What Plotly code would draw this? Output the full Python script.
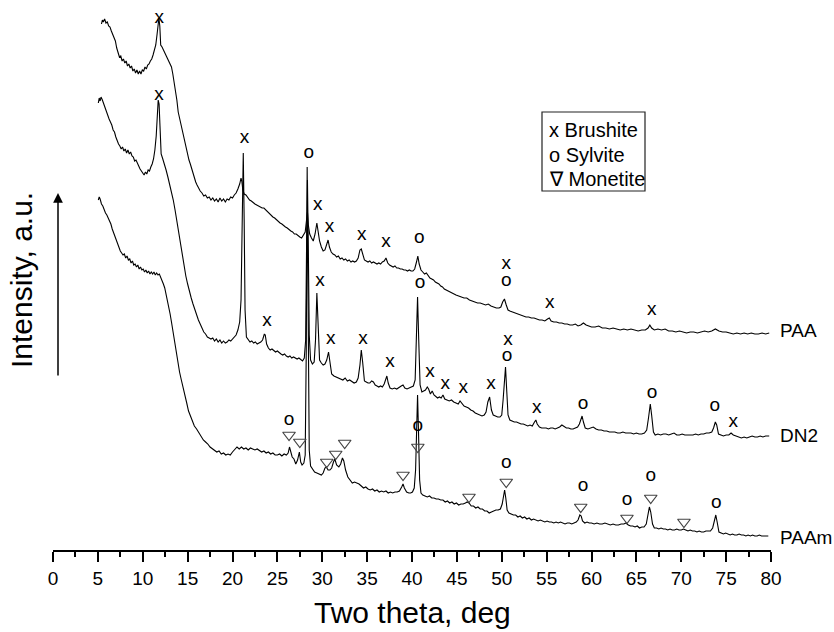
import plotly.graph_objects as go

# ---------------- data (two theta, deg ; intensity, a.u.) ----------------
paa = [
(5.40,526),(5.50,530),(5.60,528),(5.75,531),(5.90,527),(6.05,528),(6.20,524),(6.35,523),(6.50,519),(6.65,516),
(6.80,513),(6.95,509),(7.10,502),(7.25,497),(7.40,493),(7.55,494),(7.70,489),(7.85,491),(8.00,487),(8.15,489),
(8.30,484),(8.45,486),(8.60,482),(8.75,484),(8.90,479),(9.05,481),(9.20,477),(9.35,480),(9.50,476),(9.65,479),
(9.80,476),(9.95,480),(10.10,479),(10.25,483),(10.40,481),(10.55,485),(10.70,486),(10.85,489),(11.00,491),(11.15,495),
(11.30,499),(11.45,505),(11.60,516),(11.70,528),(11.80,532),(11.90,524),(12.00,505),(12.15,503),(12.30,500),(12.45,497),
(12.60,494),(12.75,492),(12.90,489),(13.05,486),(13.20,483),(13.35,476),(13.50,468),(13.65,460),(13.80,450),(13.95,438),
(14.10,432),(14.25,424),(14.40,419),(14.55,413),(14.70,406),(14.85,401),(15.00,397),(15.15,390),(15.30,386),(15.45,381),
(15.60,377),(15.75,372),(15.90,368),(16.05,365),(16.20,362),(16.40,359),(16.60,357),(16.80,354),(17.00,355),(17.20,352),
(17.40,353),(17.60,350),(17.80,352),(18.00,349),(18.20,351),(18.40,348),(18.60,352),(18.80,349),(19.00,351),(19.20,348),
(19.40,351),(19.60,350),(19.80,353),(20.00,352),(20.20,355),(20.40,357),(20.60,361),(20.80,366),(20.95,372),(21.05,368),
(21.15,360),(21.30,356),(21.50,355),(21.70,352),(21.90,350),(22.10,349),(22.30,347),(22.50,346),(22.70,345),(22.90,344),
(23.10,343),(23.30,342),(23.50,342),(23.70,340),(23.90,338),(24.10,336),(24.30,335),(24.50,333),(24.70,332),(24.90,330),
(25.10,329),(25.30,327),(25.50,326),(25.70,324),(25.90,323),(26.10,322),(26.30,320),(26.50,319),(26.70,318),(26.90,316),
(27.10,316),(27.30,314),(27.50,313),(27.70,312),(27.90,315),(28.10,318),(28.25,330),(28.35,338),(28.45,325),(28.60,316),
(28.80,312),(29.00,309),(29.20,316),(29.40,327),(29.55,318),(29.70,309),(29.90,303),(30.10,299),(30.30,300),(30.50,305),
(30.65,310),(30.80,303),(31.00,298),(31.20,296),(31.40,295),(31.60,293),(31.80,294),(32.00,291),(32.20,292),(32.40,290),
(32.60,291),(32.80,289),(33.00,290),(33.20,288),(33.40,289),(33.60,288),(33.80,289),(34.00,292),(34.20,300),(34.35,301),
(34.50,295),(34.70,290),(34.90,289),(35.10,288),(35.30,289),(35.50,287),(35.70,288),(35.90,287),(36.10,286),(36.30,287),
(36.50,286),(36.70,288),(36.90,289),(37.10,292),(37.30,287),(37.50,285),(37.70,284),(37.90,283),(38.10,284),(38.30,282),
(38.50,282),(38.70,281),(38.90,281),(39.10,280),(39.30,280),(39.50,279),(39.70,280),(39.90,279),(40.10,279),(40.30,281),
(40.50,288),(40.65,294),(40.80,286),(41.00,280),(41.20,278),(41.40,276),(41.60,277),(41.80,274),(42.00,272),(42.20,271),
(42.40,270),(42.60,268),(42.80,267),(43.00,266),(43.20,264),(43.40,263),(43.60,261),(43.80,260),(44.00,259),(44.30,258),
(44.60,256),(44.90,255),(45.20,254),(45.50,253),(45.80,252),(46.10,252),(46.40,250),(46.70,249),(47.00,248),(47.30,247),
(47.60,247),(47.90,246),(48.20,245),(48.50,246),(48.80,244),(49.10,243),(49.40,242),(49.70,242),(49.90,243),(50.10,248),
(50.30,251),(50.50,245),(50.70,240),(50.90,239),(51.20,238),(51.50,237),(51.80,236),(52.10,235),(52.40,234),(52.70,233),
(53.00,233),(53.30,232),(53.60,232),(53.90,231),(54.20,230),(54.50,230),(54.80,229),(55.10,231),(55.30,232),(55.50,229),
(55.80,228),(56.10,228),(56.40,227),(56.70,227),(57.00,226),(57.30,226),(57.60,225),(57.90,225),(58.20,226),(58.50,224),
(58.80,225),(59.10,227),(59.40,225),(59.70,224),(60.00,223),(60.40,223),(60.80,224),(61.20,222),(61.60,222),(62.00,221),
(62.40,222),(62.80,221),(63.20,220),(63.60,221),(64.00,220),(64.40,221),(64.80,220),(65.20,219),(65.60,220),(66.00,220),
(66.30,222),(66.50,225),(66.70,222),(67.00,220),(67.40,221),(67.80,220),(68.20,221),(68.60,219),(69.00,219),(69.40,218),
(69.80,219),(70.20,218),(70.60,217),(71.00,218),(71.40,218),(71.80,217),(72.20,218),(72.60,219),(73.00,218),(73.40,219),
(73.80,221),(74.20,219),(74.60,218),(75.00,218),(75.40,217),(75.80,216),(76.20,217),(76.60,216),(77.00,217),(77.40,216),
(77.80,217),(78.20,216),(78.60,216),(79.00,217),(79.40,216),(79.80,217),
]

dn2 = [
(5.05,447),(5.15,452),(5.25,449),(5.35,453),(5.50,450),(5.65,446),(5.80,441),(5.95,438),(6.10,434),(6.25,431),
(6.40,428),(6.55,425),(6.70,420),(6.85,418),(7.00,413),(7.15,409),(7.30,406),(7.45,404),(7.60,401),(7.75,403),
(7.90,399),(8.05,401),(8.20,397),(8.35,400),(8.50,396),(8.65,398),(8.80,394),(8.95,393),(9.10,389),(9.25,390),
(9.40,386),(9.55,384),(9.70,381),(9.85,379),(10.00,378),(10.15,375),(10.30,378),(10.45,376),(10.60,380),(10.75,379),
(10.90,383),(11.05,386),(11.20,391),(11.35,400),(11.50,414),(11.62,432),(11.72,450),(11.82,446),(11.92,418),(12.05,396),
(12.20,392),(12.40,387),(12.60,380),(12.80,373),(13.00,366),(13.20,358),(13.40,350),(13.60,340),(13.80,329),(14.00,316),
(14.20,305),(14.40,295),(14.60,283),(14.80,274),(15.00,266),(15.20,258),(15.40,252),(15.60,246),(15.80,240),(16.00,235),
(16.20,230),(16.40,226),(16.60,222),(16.80,218),(17.00,216),(17.20,213),(17.40,212),(17.60,211),(17.80,212),(18.00,209),
(18.20,211),(18.40,208),(18.60,210),(18.80,207),(19.00,209),(19.20,207),(19.40,208),(19.60,210),(19.80,209),(20.00,211),
(20.20,212),(20.40,215),(20.60,220),(20.80,228),(20.95,250),(21.10,330),(21.20,397),(21.30,330),(21.40,240),(21.55,213),
(21.75,210),(21.95,208),(22.15,209),(22.35,207),(22.55,208),(22.75,206),(22.95,207),(23.15,208),(23.35,210),(23.55,216),
(23.65,215),(23.80,206),(24.00,202),(24.20,200),(24.40,201),(24.60,199),(24.80,198),(25.00,199),(25.20,197),(25.40,196),
(25.60,195),(25.80,196),(26.00,194),(26.20,193),(26.40,194),(26.60,192),(26.80,193),(27.00,192),(27.20,191),(27.40,192),
(27.60,190),(27.80,189),(28.00,192),(28.15,210),(28.25,300),(28.35,370),(28.45,300),(28.55,215),(28.70,190),(28.90,186),
(29.10,188),(29.25,210),(29.40,257),(29.55,215),(29.70,190),(29.90,187),(30.10,185),(30.30,186),(30.50,190),(30.70,198),
(30.85,190),(31.05,176),(31.30,174),(31.55,173),(31.80,172),(32.05,171),(32.30,170),(32.55,172),(32.80,169),(33.05,170),
(33.30,168),(33.55,167),(33.80,168),(34.00,172),(34.20,185),(34.35,200),(34.50,188),(34.70,169),(34.90,168),(35.10,167),
(35.30,167),(35.50,169),(35.70,168),(35.90,165),(36.10,164),(36.30,163),(36.50,164),(36.70,163),(36.90,166),(37.10,172),
(37.20,174),(37.35,167),(37.55,162),(37.80,161),(38.05,162),(38.30,161),(38.55,163),(38.80,164),(39.00,165),(39.20,162),
(39.45,161),(39.70,162),(39.95,163),(40.15,164),(40.35,170),(40.50,210),(40.62,253),(40.75,210),(40.90,165),(41.10,158),
(41.30,159),(41.50,160),(41.70,163),(41.85,161),(42.05,156),(42.25,159),(42.45,155),(42.65,153),(42.85,152),(43.05,153),
(43.25,152),(43.45,155),(43.65,151),(43.90,150),(44.15,149),(44.40,150),(44.65,148),(44.90,147),(45.15,146),(45.35,149),
(45.55,147),(45.80,144),(46.05,143),(46.30,142),(46.55,140),(46.80,139),(47.05,137),(47.30,136),(47.55,135),(47.80,134),
(48.05,135),(48.25,138),(48.45,148),(48.65,153),(48.85,140),(49.05,135),(49.30,134),(49.55,133),(49.80,133),(50.00,135),
(50.15,150),(50.30,175),(50.42,183),(50.55,160),(50.70,135),(50.90,130),(51.15,129),(51.40,128),(51.65,128),(51.90,127),
(52.15,126),(52.40,126),(52.65,125),(52.90,124),(53.15,125),(53.40,124),(53.65,128),(53.80,130),(53.95,126),(54.20,123),
(54.45,122),(54.70,122),(54.95,122),(55.20,121),(55.45,122),(55.70,122),(55.95,121),(56.20,122),(56.45,123),(56.70,125),
(56.95,123),(57.20,122),(57.45,122),(57.70,121),(57.95,121),(58.20,122),(58.45,123),(58.65,126),(58.85,133),(58.95,134),
(59.10,128),(59.30,122),(59.60,121),(59.90,122),(60.20,123),(60.50,121),(60.80,120),(61.10,120),(61.40,119),(61.70,119),
(62.00,118),(62.30,118),(62.60,118),(62.90,117),(63.20,117),(63.50,118),(63.80,117),(64.10,117),(64.40,117),(64.70,116),
(65.00,117),(65.30,116),(65.60,116),(65.90,117),(66.15,120),(66.35,132),(66.55,146),(66.70,135),(66.90,118),(67.10,115),
(67.40,116),(67.70,115),(68.00,116),(68.30,116),(68.60,115),(68.90,116),(69.20,117),(69.50,115),(69.80,115),(70.10,116),
(70.40,115),(70.70,115),(71.00,115),(71.30,115),(71.60,116),(71.90,115),(72.20,116),(72.50,116),(72.80,117),(73.10,117),
(73.40,118),(73.60,122),(73.80,128),(73.95,125),(74.15,116),(74.40,115),(74.70,114),(75.00,115),(75.30,115),(75.55,117),
(75.80,115),(76.10,114),(76.40,113),(76.70,112),(77.00,113),(77.30,112),(77.60,113),(77.90,114),(78.20,113),(78.50,113),
(78.80,114),(79.10,113),(79.40,114),(79.80,114),
]

paam = [
(5.05,350),(5.15,353),(5.25,351),(5.40,346),(5.55,344),(5.70,340),(5.85,337),(6.00,335),(6.15,332),(6.30,330),
(6.45,326),(6.60,321),(6.75,317),(6.90,313),(7.05,309),(7.20,305),(7.35,302),(7.50,299),(7.65,297),(7.80,295),
(7.95,296),(8.10,292),(8.25,294),(8.40,290),(8.55,291),(8.70,287),(8.85,289),(9.00,285),(9.15,286),(9.30,283),
(9.45,285),(9.60,281),(9.75,283),(9.90,280),(10.05,281),(10.20,278),(10.35,280),(10.50,277),(10.65,279),(10.80,276),
(10.95,278),(11.10,276),(11.25,278),(11.40,275),(11.55,277),(11.70,275),(11.85,276),(12.00,273),(12.15,270),(12.30,266),
(12.45,262),(12.60,256),(12.75,250),(12.90,243),(13.05,236),(13.20,228),(13.35,220),(13.50,210),(13.65,200),(13.80,192),
(13.95,185),(14.10,178),(14.30,170),(14.50,163),(14.70,155),(14.90,147),(15.10,139),(15.30,134),(15.50,129),(15.75,124),
(16.00,121),(16.25,117),(16.50,114),(16.75,110),(17.00,108),(17.25,106),(17.50,103),(17.75,101),(18.00,100),(18.25,98),
(18.50,99),(18.75,96),(19.00,97),(19.25,95),(19.50,96),(19.75,95),(20.00,98),(20.25,100),(20.50,103),(20.75,101),
(21.00,103),(21.25,101),(21.50,102),(21.75,100),(22.00,102),(22.25,101),(22.50,100),(22.75,101),(23.00,99),(23.25,98),
(23.50,99),(23.75,97),(24.00,98),(24.25,96),(24.50,97),(24.75,95),(25.00,95),(25.25,96),(25.50,94),(25.75,96),
(26.00,95),(26.20,97),(26.35,103),(26.50,96),(26.65,93),(26.85,91),(27.05,86),(27.25,90),(27.45,98),(27.60,88),
(27.75,85),(27.95,87),(28.10,95),(28.22,200),(28.32,383),(28.42,250),(28.55,100),(28.70,84),(28.90,81),(29.15,78),
(29.40,77),(29.65,76),(29.90,75),(30.10,77),(30.30,82),(30.45,83),(30.65,80),(30.85,80),(31.05,82),(31.25,88),
(31.40,91),(31.60,85),(31.85,83),(32.05,86),(32.25,92),(32.40,89),(32.60,80),(32.85,73),(33.10,70),(33.35,67),
(33.60,68),(33.85,67),(34.10,66),(34.35,64),(34.60,62),(34.85,63),(35.10,61),(35.35,60),(35.60,61),(35.85,59),
(36.10,60),(36.35,58),(36.60,59),(36.85,58),(37.10,59),(37.35,57),(37.60,58),(37.85,57),(38.10,58),(38.35,58),
(38.60,59),(38.85,63),(39.00,66),(39.15,62),(39.40,58),(39.65,57),(39.85,57),(40.05,58),(40.25,62),(40.40,80),
(40.52,130),(40.62,155),(40.72,120),(40.85,70),(41.00,57),(41.20,55),(41.45,54),(41.70,53),(41.95,54),(42.20,52),
(42.45,52),(42.70,51),(42.95,51),(43.20,50),(43.45,50),(43.70,48),(43.95,49),(44.20,47),(44.45,48),(44.70,46),
(44.95,47),(45.20,45),(45.45,46),(45.70,46),(45.95,47),(46.15,48),(46.35,47),(46.60,44),(46.85,44),(47.10,42),
(47.35,43),(47.60,41),(47.85,41),(48.10,39),(48.35,39),(48.60,37),(48.85,38),(49.10,39),(49.35,40),(49.60,40),
(49.85,41),(50.05,46),(50.20,55),(50.32,60),(50.45,52),(50.60,40),(50.80,37),(51.05,36),(51.30,35),(51.55,35),
(51.80,33),(52.05,34),(52.30,32),(52.55,33),(52.80,31),(53.05,32),(53.30,30),(53.55,31),(53.80,30),(54.05,29),
(54.30,30),(54.55,29),(54.80,28),(55.05,29),(55.30,28),(55.55,28),(55.80,27),(56.05,28),(56.30,27),(56.55,28),
(56.80,27),(57.05,26),(57.30,27),(57.55,27),(57.80,26),(58.05,27),(58.30,28),(58.50,30),(58.70,35),(58.85,34),
(59.00,29),(59.25,27),(59.50,28),(59.75,27),(60.00,27),(60.30,26),(60.60,27),(60.90,26),(61.20,26),(61.50,27),
(61.80,26),(62.10,25),(62.40,26),(62.70,25),(63.00,25),(63.30,26),(63.60,26),(63.85,27),(64.10,25),(64.35,24),
(64.60,24),(64.85,23),(65.10,24),(65.35,22),(65.60,23),(65.85,23),(66.10,26),(66.30,34),(66.45,43),(66.60,38),
(66.80,26),(67.00,22),(67.25,22),(67.50,21),(67.75,22),(68.00,21),(68.25,21),(68.50,20),(68.75,21),(69.00,20),
(69.25,20),(69.50,21),(69.75,20),(70.00,20),(70.25,21),(70.50,20),(70.75,19),(71.00,20),(71.25,19),(71.50,19),
(71.75,18),(72.00,19),(72.25,18),(72.50,18),(72.75,19),(73.00,19),(73.25,19),(73.50,22),(73.70,30),(73.85,35),
(74.00,28),(74.20,18),(74.45,17),(74.70,16),(74.95,17),(75.20,16),(75.45,15),(75.70,16),(75.95,15),(76.20,15),
(76.45,16),(76.70,15),(76.95,15),(77.20,14),(77.45,15),(77.70,14),(77.95,15),(78.20,14),(78.45,14),(78.70,15),
(78.95,14),(79.20,14),(79.45,14),(79.70,14),
]

series_names = ["PAA", "DN2", "PAAm"]

# phase marks placed above the peaks (two theta, intensity)
brushite_marks = [(11.85,530),(21.35,410),(29.5,343),(30.8,321),(34.4,313),(37.1,306),(50.5,284),(55.35,245),(66.7,238),
                  (11.8,453),(23.85,227),(29.75,267),(30.95,209),(34.55,209),(37.55,186),(42.0,176),(43.7,164),
                  (45.7,160),(48.8,164),(50.7,208),(53.9,140),(75.8,126)]
sylvite_marks = [(28.5,395),(40.8,310),(50.5,267),(40.9,265),(50.6,192),(59.05,144),(66.75,155),(73.75,142),
                 (26.3,128),(40.65,122),(50.5,85),(59.05,62),(63.95,48),(66.6,72),(73.9,45)]
monetite_marks = [(26.3,115),(27.5,108),(30.5,88),(31.5,96),(32.5,107),(39.0,75),(40.65,103),(46.35,53),
                  (50.5,68),(58.8,43),(63.95,32),(66.6,52),(70.3,28)]

x_ticks = list(range(0, 81, 5))
legend_lines = ["x Brushite", "o Sylvite", "\u2207 Monetite"]

# ---------------- figure ----------------
FONT = "Arial, Liberation Sans, sans-serif"
W, H = 834, 632
L, R, T, B = 53, 63, 0, 82
PW, PH = W - L - R, H - T - B


def px(xp, yp):
    """pixel position -> paper coordinates"""
    return (xp - L) / PW, (H - B - yp) / PH


fig = go.Figure()
for name, data in zip(series_names, [paa, dn2, paam]):
    xs, ys = zip(*data)
    fig.add_trace(go.Scatter(x=list(xs), y=list(ys), mode="lines", name=name,
                             line=dict(color="black", width=1.1), showlegend=False))

for marks, ch in [(brushite_marks, "x"), (sylvite_marks, "o")]:
    xs, ys = zip(*marks)
    fig.add_trace(go.Scatter(x=list(xs), y=[v + 2 for v in ys], mode="text", text=[ch] * len(xs),
                             textfont=dict(family=FONT, size=19, color="black"),
                             showlegend=False, cliponaxis=False))
xs, ys = zip(*monetite_marks)
fig.add_trace(go.Scatter(x=list(xs), y=list(ys), mode="markers",
                         marker=dict(symbol="triangle-down-open", size=11, color="#444",
                                     line=dict(width=1.2, color="#444")),
                         showlegend=False, cliponaxis=False))

annotations = []
# curve labels
for name, yp in zip(series_names, [330, 435, 537]):
    ax_, ay_ = px(778, yp)
    annotations.append(dict(x=ax_, y=ay_, xref="paper", yref="paper", text=name, showarrow=False,
                            xanchor="left", yanchor="middle", font=dict(family=FONT, size=19, color="black")))
# legend text
for txt, yp in zip(legend_lines, [130, 155, 179]):
    ax_, ay_ = px(547, yp)
    annotations.append(dict(x=ax_, y=ay_, xref="paper", yref="paper", text=txt, showarrow=False,
                            xanchor="left", yanchor="middle", font=dict(family=FONT, size=20, color="black")))
# axis titles
tx, ty = px(412, 612)
annotations.append(dict(x=tx, y=ty, xref="paper", yref="paper", text="Two theta, deg", showarrow=False,
                        xanchor="center", yanchor="middle", font=dict(family=FONT, size=30, color="black")))
tx, ty = px(22, 280)
annotations.append(dict(x=tx, y=ty, xref="paper", yref="paper", text="Intensity, a.u.", showarrow=False,
                        textangle=-90, xanchor="center", yanchor="middle",
                        font=dict(family=FONT, size=30, color="black")))
# arrow along the intensity axis
hx, hy = px(58, 193)
annotations.append(dict(x=hx, y=hy, ax=0, ay=377 - 193, xref="paper", yref="paper", axref="pixel", ayref="pixel",
                        text="", showarrow=True, arrowhead=2, arrowsize=1.3, arrowwidth=1.5, arrowcolor="black"))

x0, y0 = px(542, 191)
x1, y1 = px(645, 112)
shapes = [dict(type="rect", xref="paper", yref="paper", x0=x0, y0=y0, x1=x1, y1=y1,
               line=dict(color="#222", width=1.2), fillcolor="rgba(0,0,0,0)")]

fig.update_layout(
    width=W, height=H, margin=dict(l=L, r=R, t=T, b=B),
    paper_bgcolor="white", plot_bgcolor="white",
    showlegend=False, annotations=annotations, shapes=shapes,
    xaxis=dict(range=[0, 80], tickvals=x_ticks, ticktext=[str(v) for v in x_ticks],
               showline=True, linecolor="black", linewidth=1.5, mirror=False,
               ticks="outside", ticklen=10, tickwidth=1.5, tickcolor="black",
               minor=dict(ticks="outside", ticklen=5, tickwidth=1.5, tickcolor="black", dtick=2.5, tick0=0),
               showgrid=False, zeroline=False,
               tickfont=dict(family=FONT, size=19, color="black")),
    yaxis=dict(range=[0, 550], visible=False, showgrid=False, zeroline=False),
)

fig.write_html("out.html")
